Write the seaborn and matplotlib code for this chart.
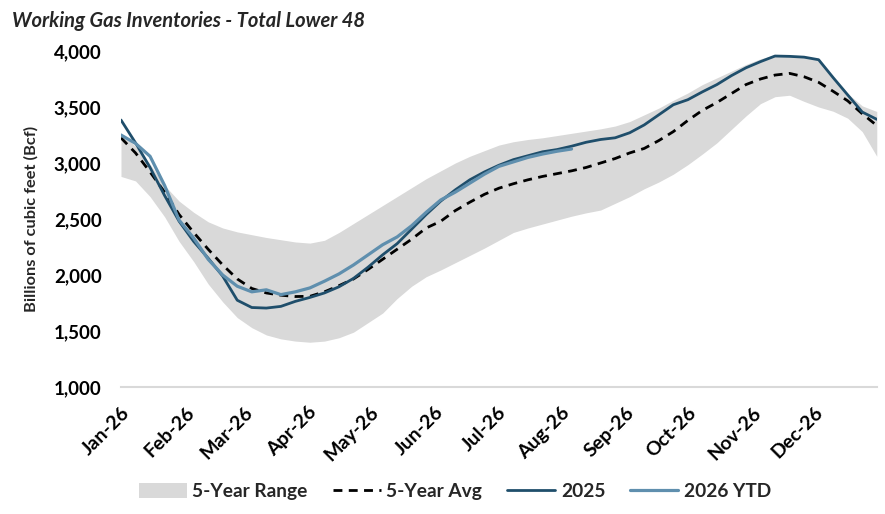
import matplotlib
matplotlib.use('Agg')
import matplotlib.pyplot as plt
import matplotlib.dates as mdates
import matplotlib.transforms as mtransforms
from matplotlib.patches import Patch
from matplotlib.lines import Line2D
import seaborn as sns
import pandas as pd

# DATA -----------------------------------------------------------------------

# weekly storage reports, Jan-26 to Dec-26 (Bcf)
week_dates = pd.date_range('2026-01-01', periods=53, freq='7D')

range_high = [3260, 3150, 2990, 2800, 2660, 2560, 2475, 2420, 2385, 2360, 2335, 2315, 2295, 2285,
              2310, 2380, 2460, 2540, 2620, 2700, 2780, 2860, 2930, 3000, 3060, 3110, 3160, 3190,
              3210, 3225, 3245, 3265, 3285, 3305, 3330, 3370, 3430, 3490, 3560, 3625, 3700, 3760,
              3820, 3880, 3930, 3965, 3960, 3955, 3930, 3770, 3620, 3510, 3460]
range_low = [2880, 2840, 2700, 2520, 2300, 2120, 1920, 1760, 1620, 1530, 1465, 1430, 1410, 1400,
             1410, 1440, 1490, 1575, 1660, 1790, 1900, 1985, 2045, 2110, 2175, 2240, 2310, 2380,
             2420, 2455, 2490, 2525, 2555, 2580, 2640, 2700, 2770, 2830, 2900, 2985, 3080, 3180,
             3300, 3420, 3530, 3592, 3605, 3550, 3500, 3462, 3400, 3280, 3060]
avg_5yr = [3225, 3090, 2920, 2740, 2540, 2380, 2230, 2090, 1965, 1880, 1840, 1820, 1808, 1810,
           1850, 1905, 1965, 2050, 2140, 2230, 2320, 2420, 2480, 2575, 2650, 2720, 2775, 2815,
           2850, 2880, 2905, 2930, 2960, 3000, 3040, 3090, 3130, 3200, 3280, 3380, 3470, 3540,
           3620, 3700, 3750, 3785, 3800, 3770, 3720, 3640, 3555, 3440, 3335]
inv_2025 = [3384, 3180, 2960, 2710, 2480, 2300, 2150, 1990, 1775, 1710, 1705, 1720, 1765, 1800,
            1840, 1895, 1970, 2070, 2180, 2280, 2410, 2540, 2660, 2760, 2850, 2920, 2980, 3030,
            3065, 3100, 3120, 3150, 3185, 3210, 3225, 3270, 3340, 3430, 3520, 3565, 3635, 3700,
            3780, 3850, 3905, 3955, 3952, 3945, 3922, 3762, 3608, 3455, 3390]
inv_2026 = [3250, 3175, 3060, 2800, 2490, 2330, 2140, 2000, 1900, 1850, 1868, 1825, 1850, 1885,
            1945, 2010, 2090, 2180, 2270, 2340, 2440, 2560, 2670, 2740, 2820, 2900, 2970, 3010,
            3050, 3080, 3105, 3125]

y_ticks = [1000, 1500, 2000, 2500, 3000, 3500, 4000]

df = pd.DataFrame({'date': week_dates, 'high': range_high, 'low': range_low,
                   'avg': avg_5yr, 'y2025': inv_2025})
df_ytd = pd.DataFrame({'date': week_dates[:len(inv_2026)], 'y2026': inv_2026})

# STYLE ----------------------------------------------------------------------

sns.set_theme(style='white')
plt.rcParams['font.family'] = ['Lato', 'DejaVu Sans']

band_color = '#D9D9D9'
dark_blue = '#1F4E6B'
light_blue = '#5F8FAE'
dash_style = (0, (3.2, 2.3))

# PLOT -----------------------------------------------------------------------

fig = plt.figure(figsize=(8.85, 5.14), dpi=100)
ax = fig.add_axes([0.1367, 0.247, 0.854, 0.6538])

ax.fill_between(df['date'], df['low'], df['high'], color=band_color, linewidth=0)
sns.lineplot(data=df, x='date', y='avg', ax=ax, color='black', linewidth=2.0, linestyle=dash_style)
sns.lineplot(data=df, x='date', y='y2025', ax=ax, color=dark_blue, linewidth=2.0)
sns.lineplot(data=df_ytd, x='date', y='y2026', ax=ax, color=light_blue, linewidth=2.3)

ax.set_ylim(1000, 4000)
ax.set_xlim(pd.Timestamp('2026-01-01'), pd.Timestamp('2026-12-31'))
ax.set_yticks(y_ticks)
ax.set_yticklabels([f'{v:,}' for v in y_ticks], fontsize=13.5, fontweight='bold')
ax.xaxis.set_major_locator(mdates.MonthLocator())
ax.xaxis.set_major_formatter(mdates.DateFormatter('%b-%y'))

shift = mtransforms.ScaledTranslation(5 / 100, 0, fig.dpi_scale_trans)
for lbl in ax.get_xticklabels():
    lbl.set_rotation(45)
    lbl.set_ha('right')
    lbl.set_va('top')
    lbl.set_rotation_mode('anchor')
    lbl.set_fontsize(14)
    lbl.set_fontweight('bold')
    lbl.set_transform(lbl.get_transform() + shift)
ax.tick_params(axis='y', length=0, pad=14, colors='black')
ax.tick_params(axis='x', length=0, pad=12, colors='black')

for side in ['top', 'right', 'left']:
    ax.spines[side].set_visible(False)
ax.spines['bottom'].set_color('#D9D9D9')
ax.spines['bottom'].set_linewidth(1.5)

ax.set_xlabel('')
ax.set_ylabel('Billions of cubic feet (Bcf)', fontsize=11.8, fontweight='bold', labelpad=11)

fig.text(0.013, 0.978, 'Working Gas Inventories - Total Lower 48', fontsize=14.5,
         fontweight='bold', fontstyle='italic', va='top', ha='left')

handles = [
    Patch(facecolor=band_color, edgecolor='none'),
    Line2D([0], [0], color='black', linewidth=2.0, linestyle=dash_style),
    Line2D([0], [0], color=dark_blue, linewidth=2.0),
    Line2D([0], [0], color=light_blue, linewidth=2.3),
]
labels = ['5-Year Range', '5-Year Avg', '2025', '2026 YTD']
fig.legend(handles, labels, loc='center', bbox_to_anchor=(0.514, 0.043), ncol=4,
           frameon=False, handlelength=2.5, handleheight=0.8, handletextpad=0.3,
           columnspacing=1.3, prop={'weight': 'bold', 'size': 13.8})

fig.savefig('out.png', dpi=100)
